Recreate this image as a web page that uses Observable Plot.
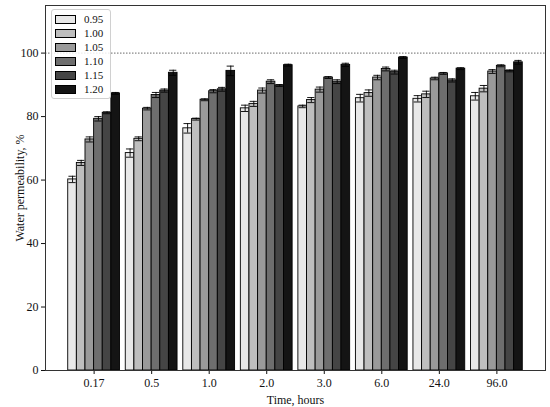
<!DOCTYPE html>
<html>
<head>
<meta charset="utf-8">
<script src="https://cdn.jsdelivr.net/npm/d3@7"></script>
<script src="https://cdn.jsdelivr.net/npm/@observablehq/plot@0.6"></script>
<style>
  html, body { margin: 0; padding: 0; background: #fff; }
  #wrap { position: relative; width: 550px; height: 407px; font-family: "Liberation Serif", "DejaVu Serif", serif; }
  #wrap svg text { font-family: "Liberation Serif", serif; }
  #legend { position: absolute; left: 51px; top: 9px; background: rgba(255,255,255,0.85); border: 1px solid #d0d0d0; border-radius: 3px; padding: 2px 7px 2px 3px; font-size: 11px; color: #111; }
  #legend .row { display: flex; align-items: center; height: 14px; }
  #legend .sw { width: 19px; height: 7px; border: 1px solid #000; margin-right: 8px; }
</style>
</head>
<body>
<div id="wrap"><div id="legend"></div></div>
<script>
const times = ["0.17", "0.5", "1.0", "2.0", "3.0", "6.0", "24.0", "96.0"];
const series = ["0.95", "1.00", "1.05", "1.10", "1.15", "1.20"];
const colors = ["#e8e8e8", "#bebebe", "#9a9a9a", "#6e6e6e", "#454545", "#141414"];

const v095 = [60.2, 68.5, 76.3, 82.6, 83.2, 85.8, 85.6, 86.4];
const e095 = [1.0, 1.3, 1.5, 1.0, 0.4, 1.2, 1.0, 1.2];
const v100 = [65.4, 73.0, 79.2, 84.0, 85.2, 87.4, 87.0, 88.8];
const e100 = [0.8, 0.6, 0.3, 0.8, 0.8, 1.0, 1.0, 1.0];
const v105 = [72.8, 82.5, 85.3, 88.2, 88.5, 92.3, 92.0, 94.2];
const e105 = [0.8, 0.4, 0.3, 0.8, 0.8, 0.7, 0.4, 0.6];
const v110 = [79.3, 86.8, 88.0, 91.0, 92.3, 95.0, 93.6, 96.0];
const e110 = [0.7, 0.8, 0.5, 0.6, 0.3, 0.6, 0.3, 0.3];
const v115 = [81.2, 88.2, 88.6, 89.8, 91.0, 94.0, 91.4, 94.4];
const e115 = [0.3, 0.5, 0.6, 0.3, 0.6, 0.6, 0.5, 0.3];
const v120 = [87.3, 93.8, 94.4, 96.2, 96.3, 98.6, 95.1, 97.1];
const e120 = [0.3, 0.8, 1.5, 0.3, 0.5, 0.3, 0.3, 0.6];

const values = [v095, v100, v105, v110, v115, v120];
const errors = [e095, e100, e105, e110, e115, e120];

const barW = 0.15;
const rows = [];
times.forEach((t, i) => {
  series.forEach((s, j) => {
    const c = i + (j - 2.5) * barW;
    rows.push({
      time: t, series: s, value: values[j][i], err: errors[j][i],
      x1: c - barW / 2, x2: c + barW / 2, xc: c,
      c1: c - barW * 0.42, c2: c + barW * 0.42
    });
  });
});

const plot = Plot.plot({
  width: 550,
  height: 407,
  marginLeft: 45,
  marginRight: 5,
  marginTop: 5,
  marginBottom: 37,
  style: { fontFamily: "Liberation Serif", fontSize: "12px", color: "#111", background: "transparent" },
  x: { type: "linear", domain: [-0.845, 7.845] },
  y: { domain: [0, 115] },
  color: { domain: series, range: colors },
  marks: [
    Plot.rectY(rows, { x1: "x1", x2: "x2", y1: 0, y2: "value", fill: d => d.series, stroke: "#000", strokeWidth: 0.9 }),
    Plot.ruleX(rows, { x: "xc", y1: d => d.value - d.err, y2: d => d.value + d.err, stroke: "#000", strokeWidth: 0.9 }),
    Plot.ruleY(rows, { y: d => d.value + d.err, x1: "c1", x2: "c2", stroke: "#000", strokeWidth: 0.9 }),
    Plot.ruleY(rows, { y: d => d.value - d.err, x1: "c1", x2: "c2", stroke: "#000", strokeWidth: 0.9 }),
    Plot.ruleY([100], { stroke: "#444", strokeWidth: 0.8, strokeDasharray: "1.5,1.5" }),
    Plot.axisY({ ticks: [0, 20, 40, 60, 80, 100], tickSize: 4, fontSize: 12, label: "Water permeability, %", labelAnchor: "center", labelArrow: "none", labelOffset: 30, tickPadding: 3 }),
    Plot.axisX({ ticks: d3.range(times.length), tickFormat: i => times[i], tickSize: 4, fontSize: 12, label: "Time, hours", labelAnchor: "center", labelArrow: "none", labelOffset: 33, tickPadding: 4 }),
    Plot.frame({ stroke: "#333", strokeWidth: 1 })
  ]
});

document.getElementById("wrap").prepend(plot);

const legend = document.getElementById("legend");
series.forEach((s, j) => {
  const row = document.createElement("div");
  row.className = "row";
  const sw = document.createElement("div");
  sw.className = "sw";
  sw.style.background = colors[j];
  const lab = document.createElement("span");
  lab.textContent = s;
  row.appendChild(sw);
  row.appendChild(lab);
  legend.appendChild(row);
});
</script>
</body>
</html>
